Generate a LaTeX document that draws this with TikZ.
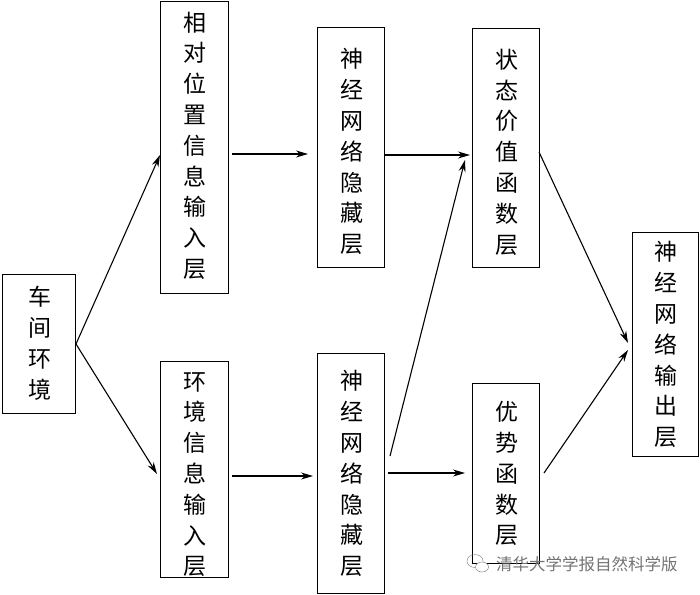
\documentclass[tikz,border=0pt]{standalone}
\usepackage{fontspec}
\newfontfamily\cjk{Noto Sans CJK SC}
\usetikzlibrary{arrows.meta}
\tikzset{
  layerbox/.style={draw=black,line width=1.2pt,fill=white,inner sep=0pt},
  layertext/.style={inner sep=0pt,align=center,font=\cjk\fontsize{23}{30.8}\selectfont},
  link/.style={-{Stealth[length=12pt,width=7pt]},line width=1.1pt}
}
% name, left, top, width, height, downward label shift, vertically stacked label
\newcommand{\layer}[7]{%
  \node[layerbox,anchor=north west,minimum width=#4pt,minimum height=#5pt] (#1) at (#2pt,-#3pt) {};
  \node[layertext] (#1t) at ([yshift=-#6pt,xshift=0.5pt]#1.center) {#7};}
\begin{document}
\begin{tikzpicture}[x=1pt,y=1pt]
\useasboundingbox (0,0) rectangle (700,-594);
\layer{env}{2}{274}{73}{139}{-1}{车\\间\\环\\境}
\layer{rel}{160}{1}{68}{292}{-2}{\fontsize{23}{30.4}\selectfont 相\\对\\位\\置\\信\\息\\输\\入\\层}
\layer{inp}{160}{361}{68}{216}{5}{环\\境\\信\\息\\输\\入\\层}
\layer{hida}{317}{27}{67}{240}{4}{神\\经\\网\\络\\隐\\藏\\层}
\layer{hidb}{317}{353}{67}{240}{0}{神\\经\\网\\络\\隐\\藏\\层}
\layer{val}{472}{28}{67}{239}{4}{状\\态\\价\\值\\函\\数\\层}
\layer{adv}{472}{383}{67}{180}{0}{优\\势\\函\\数\\层}
\layer{out}{632}{232}{66}{224}{0}{神\\经\\网\\络\\输\\出\\层}
% connector end points sit slightly off the box edges
\coordinate (s1) at (76,-344);
\coordinate (e1) at (160,-155);
\coordinate (e2) at (157,-474);
\draw[link] (s1) -- (e1);
\draw[link] (s1) -- (e2);
\coordinate (a1) at (232,-154);
\coordinate (a2) at (308,-154);
\draw[link] (a1) -- (a2);
\coordinate (b1) at (232,-476);
\coordinate (b2) at (313,-476);
\draw[link] (b1) -- (b2);
\coordinate (c1) at (385,-155);
\coordinate (c2) at (470,-155);
\draw[link] (c1) -- (c2);
\coordinate (d1) at (390,-456);
\coordinate (d2) at (465,-160);
\draw[link] (d1) -- (d2);
\coordinate (f1) at (388,-473);
\coordinate (f2) at (465,-473);
\draw[link] (f1) -- (f2);
\coordinate (g1) at (539,-152);
\coordinate (g2) at (628,-343);
\draw[link] (g1) -- (g2);
\coordinate (h1) at (544,-473);
\coordinate (h2) at (628,-350);
\draw[link] (h1) -- (h2);
% publisher mark: speech-bubble icon and name
\draw[black!45,line width=0.5pt] (475,-561) ellipse (8pt and 6.5pt);
\draw[black!45,line width=0.5pt,fill=white] (482,-567) ellipse (6.5pt and 5pt);
\node[font=\cjk\fontsize{16.5}{16.5}\selectfont,text=black!55,anchor=west,inner sep=0pt] (mark) at (496,-564) {清华大学学报自然科学版};
\end{tikzpicture}
\end{document}
